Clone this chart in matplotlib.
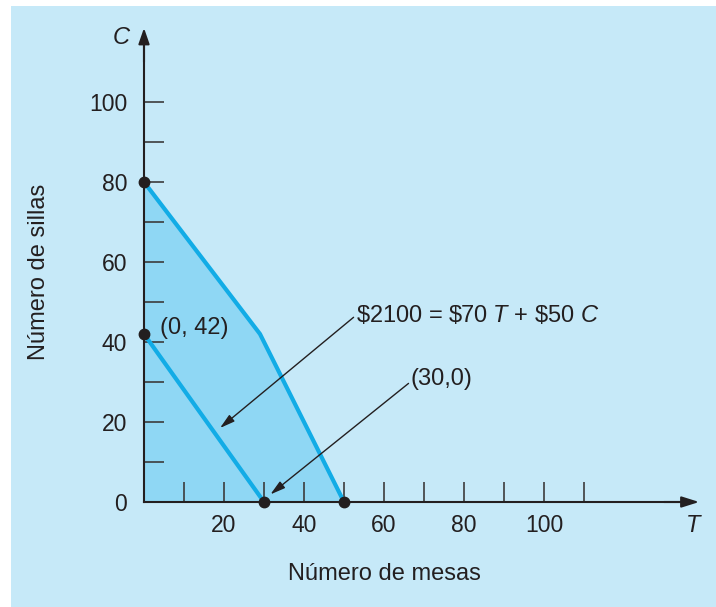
import matplotlib
matplotlib.use("Agg")
import matplotlib.pyplot as plt
from matplotlib.patches import Rectangle
from matplotlib.ticker import FixedLocator, NullFormatter

plt.rcParams['font.family'] = ['Liberation Sans', 'DejaVu Sans']
plt.rcParams['mathtext.fontset'] = 'custom'
plt.rcParams['mathtext.rm'] = 'Liberation Sans'
plt.rcParams['mathtext.it'] = 'Liberation Sans:italic'

# ---- data ----
region_T = [0, 0, 29, 50]
region_C = [0, 80, 42, 0]
boundary_T = [0, 29, 50]
boundary_C = [80, 42, 0]
iso_T = [0, 30]
iso_C = [42, 0]
pts_T = [0, 0, 30, 50]
pts_C = [80, 42, 0, 0]
x_major = [20, 40, 60, 80, 100]
x_minor = [10, 30, 50, 70, 90, 110]
y_major = [0, 20, 40, 60, 80, 100]
y_minor = [10, 30, 50, 70, 90]

BG = '#c6e9f8'
FILL = '#8fd7f4'
LINE = '#12ace6'
INK = '#231f20'
TICK = '#3c3c3c'

fig = plt.figure(figsize=(7.16, 6.07), dpi=100)
fig.patch.set_facecolor('white')

ax = fig.add_axes([0, 0, 1, 1])
ax.set_facecolor('none')
ax.add_patch(Rectangle((11/716, 0), 1, 1 - 6/607, transform=fig.transFigure,
                       facecolor=BG, edgecolor='none', zorder=-5, clip_on=False))
ax.set_xlim(-36, 143)
ax.set_ylim(-26.25, 125.5)

for s in ['top', 'right']:
    ax.spines[s].set_visible(False)
ax.spines['left'].set_position(('data', 0))
ax.spines['bottom'].set_position(('data', 0))
ax.spines['left'].set_bounds(0, 115)
ax.spines['bottom'].set_bounds(0, 135)
for s in ['left', 'bottom']:
    ax.spines[s].set_color(INK)
    ax.spines[s].set_linewidth(1.5)
    ax.spines[s].set_zorder(4)

ax.xaxis.set_major_locator(FixedLocator(x_major))
ax.xaxis.set_minor_locator(FixedLocator(x_minor))
ax.yaxis.set_major_locator(FixedLocator(y_major))
ax.yaxis.set_minor_locator(FixedLocator(y_minor))
ax.xaxis.set_minor_formatter(NullFormatter())
ax.yaxis.set_minor_formatter(NullFormatter())
ax.tick_params(which='both', direction='in', length=14.5, width=1.2, color=TICK,
               labelsize=16.5, labelcolor=INK)
ax.tick_params(axis='x', which='major', pad=9)
ax.tick_params(axis='y', which='major', pad=12)

# axis arrowheads
ax.annotate('', xy=(0, 118.5), xytext=(0, 110),
            arrowprops=dict(arrowstyle='-|>,head_length=0.95,head_width=0.33',
                            mutation_scale=10, color=INK, lw=1.5,
                            shrinkA=0, shrinkB=0), zorder=5)
ax.annotate('', xy=(138.8, 0), xytext=(130, 0),
            arrowprops=dict(arrowstyle='-|>,head_length=1.05,head_width=0.33',
                            mutation_scale=10, color=INK, lw=1.5,
                            shrinkA=0, shrinkB=0), zorder=5)

# feasible region
ax.fill(region_T, region_C, color=FILL, lw=0, zorder=1)
ax.plot(boundary_T, boundary_C, color=LINE, lw=3, solid_joinstyle='miter', zorder=3)
ax.plot(iso_T, iso_C, color=LINE, lw=3, zorder=3)
ax.plot(pts_T, pts_C, 'o', color=INK, ms=7.5, zorder=6, clip_on=False)

# labels
ax.text(-5.75, 116, 'C', style='italic', fontsize=17, color=INK, ha='center', va='center')
ax.text(137.3, -5.9, 'T', style='italic', fontsize=17, color=INK, ha='center', va='center')
ax.text(-26.3, 57.6, 'Número de sillas', rotation=90, fontsize=17, color=INK,
        ha='center', va='center')
ax.text(60, -18, 'Número de mesas', fontsize=17, color=INK, ha='center', va='center')
ax.text(4, 43.5, '(0, 42)', fontsize=17, color=INK, ha='left', va='center')

ax.annotate(r'\$2100 = \$70 $T$ + \$50 $C$', xy=(19, 18.5), xytext=(53, 46.75),
            fontsize=17, color=INK, ha='left', va='center',
            arrowprops=dict(arrowstyle='-|>,head_length=0.9,head_width=0.25',
                            mutation_scale=10, color=INK, lw=1.0,
                            shrinkA=0, shrinkB=0,
                            patchA=None, relpos=(-0.01, 0.4)))
ax.annotate('(30,0)', xy=(31.6, 1.9), xytext=(66.75, 30.75),
            fontsize=17, color=INK, ha='left', va='center',
            arrowprops=dict(arrowstyle='-|>,head_length=0.9,head_width=0.25',
                            mutation_scale=10, color=INK, lw=1.0,
                            shrinkA=0, shrinkB=0,
                            patchA=None, relpos=(-0.04, 0.3)))

fig.savefig('out.png', dpi=100, facecolor=fig.get_facecolor())
